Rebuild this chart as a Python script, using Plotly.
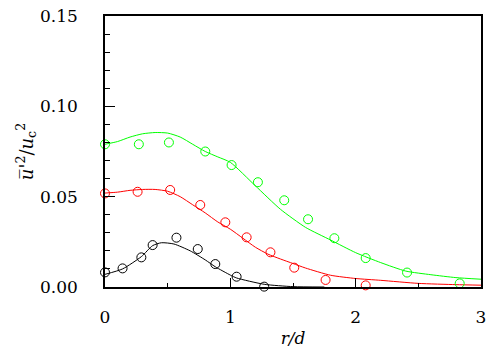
import plotly.graph_objects as go

# Measured points (open circles)
green_x = [0.0, 0.27, 0.51, 0.80, 1.01, 1.22, 1.43, 1.62, 1.83, 2.08, 2.41, 2.83]
green_y = [0.079, 0.079, 0.080, 0.075, 0.0675, 0.058, 0.048, 0.0375, 0.027, 0.016, 0.008, 0.002]

red_x = [0.0, 0.26, 0.52, 0.76, 0.96, 1.13, 1.32, 1.51, 1.76, 2.08]
red_y = [0.0518, 0.0527, 0.0537, 0.0454, 0.0358, 0.0275, 0.0192, 0.0107, 0.0039, 0.0009]

black_x = [0.0, 0.14, 0.29, 0.38, 0.57, 0.74, 0.88, 1.05, 1.27]
black_y = [0.0081, 0.0103, 0.0164, 0.0232, 0.0273, 0.0210, 0.0127, 0.0057, 0.0002]

# Computed curves (lines)
green_cx = [0.0, 0.1, 0.2, 0.3, 0.4, 0.5, 0.6, 0.7, 0.8, 0.9, 1.0, 1.2, 1.4, 1.6, 1.8, 2.0, 2.2, 2.4, 2.6, 2.8, 3.0]
green_cy = [0.079, 0.0805, 0.083, 0.0848, 0.0855, 0.0852, 0.083, 0.079, 0.075, 0.072, 0.069, 0.056, 0.043,
            0.033, 0.026, 0.019, 0.0135, 0.0088, 0.0068, 0.0052, 0.0043]

red_cx = [0.0, 0.1, 0.2, 0.3, 0.4, 0.5, 0.6, 0.7, 0.8, 0.9, 1.0, 1.1, 1.2, 1.3, 1.4, 1.5, 1.6, 1.8, 2.0, 2.2, 2.5, 2.8, 3.0]
red_cy = [0.052, 0.0525, 0.0535, 0.054, 0.054, 0.053, 0.050, 0.0455, 0.041, 0.036, 0.032, 0.027, 0.022,
          0.0182, 0.0155, 0.013, 0.0105, 0.0065, 0.0047, 0.0037, 0.002, 0.0013, 0.001]

black_cx = [0.0, 0.14, 0.29, 0.38, 0.45, 0.55, 0.68, 0.8, 0.88, 1.0, 1.05, 1.27, 1.5, 1.75]
black_cy = [0.007, 0.010, 0.0168, 0.0229, 0.0245, 0.0238, 0.020, 0.015, 0.0112, 0.0066, 0.005, 0.0015, 0.0002, 0.0]

x_ticks = [0, 1, 2, 3]
y_ticks = [0.00, 0.05, 0.10, 0.15]
y_tick_labels = ["0.00", "0.05", "0.10", "0.15"]

GREEN = "#00ff00"
RED = "#ff0000"
BLACK = "#000000"
FONT = "DejaVu Serif"

fig = go.Figure()
for cx, cy, col in [(green_cx, green_cy, GREEN), (red_cx, red_cy, RED), (black_cx, black_cy, BLACK)]:
    fig.add_trace(go.Scatter(x=cx, y=cy, mode="lines", line=dict(color=col, width=1, shape="spline", smoothing=0.6),
                             showlegend=False, hoverinfo="skip"))
for px, py, col in [(green_x, green_y, GREEN), (red_x, red_y, RED), (black_x, black_y, BLACK)]:
    fig.add_trace(go.Scatter(x=px, y=py, mode="markers",
                             marker=dict(symbol="circle-open", size=9, color=col, line=dict(width=1, color=col)),
                             showlegend=False, cliponaxis=False))

fig.update_layout(
    width=493, height=360,
    margin=dict(l=105, r=12, t=16, b=73, autoexpand=False),
    paper_bgcolor="white", plot_bgcolor="white",
    font=dict(family=FONT, size=17, color="black"),
    xaxis=dict(range=[0, 3], tickvals=x_ticks, ticks="inside", ticklen=9, tickwidth=1, tickcolor="black",
               showline=True, linecolor="black", linewidth=1.5, mirror=True, showgrid=False, zeroline=False,
               minor=dict(dtick=0.5, ticks="inside", ticklen=4, tickcolor="black", showgrid=False),
               ticklabelstandoff=14,
               title=dict(text="<i>r/d</i>", font=dict(family=FONT, size=17), standoff=6),
               tickfont=dict(family=FONT, size=17)),
    yaxis=dict(range=[0, 0.15], tickvals=y_ticks, ticktext=y_tick_labels, ticks="inside", ticklen=10, tickwidth=1,
               tickcolor="black", showline=True, linecolor="black", linewidth=1.5, mirror=True, showgrid=False,
               zeroline=False,
               minor=dict(dtick=0.01, ticks="inside", ticklen=5, tickcolor="black", showgrid=False),
               ticklabelstandoff=22,
               title=dict(text="<i>u\u0305'</i><sup>2</sup>/<i>u</i><sub>c</sub><sup>2</sup>",
                          font=dict(family=FONT, size=18), standoff=2),
               tickfont=dict(family=FONT, size=17)),
)

fig.write_html("out.html", config={"displayModeBar": False},
               post_script="document.body.style.margin='0';document.body.style.overflow='hidden';")
